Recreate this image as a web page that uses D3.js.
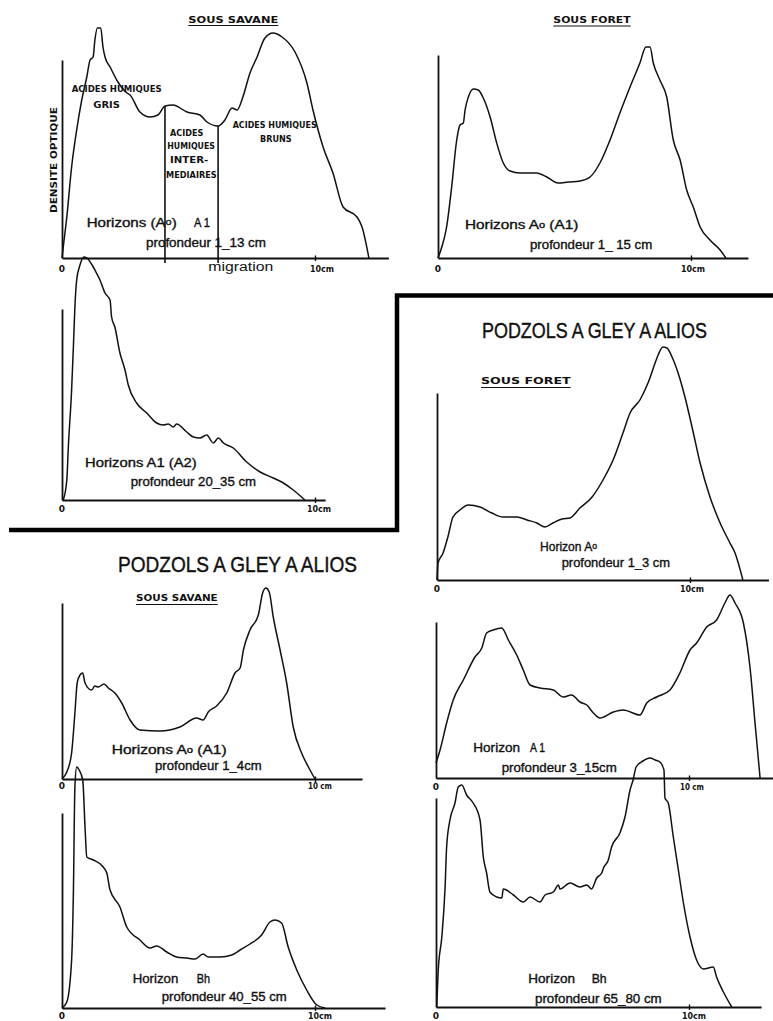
<!DOCTYPE html>
<html><head><meta charset="utf-8">
<script src="https://cdn.jsdelivr.net/npm/d3@7"></script>
<style>body{margin:0;background:#fff}svg{display:block}</style>
</head><body>
<script>
// ---- DATA : densité optique (unités arbitraires) vs migration (cm) ----
// Sous savane, Horizons (Ao) A1, profondeur 1-13 cm
const savaneAoA1 = [[0,0],[0.05,5.5],[0.19,20.5],[0.38,45.5],[0.58,64],[0.78,79],[0.98,90.5],[1.11,99],[1.23,100.5],[1.30,109],[1.40,115],[1.53,115],[1.62,105.5],[1.70,100.5],[1.90,95.5],[2.21,88],[2.57,82.5],[2.69,81.5],[3.08,73],[3.48,70.5],[3.79,71.5],[4.07,76],[4.39,76.5],[4.94,73],[5.45,71.5],[5.73,68],[6.17,66],[6.44,69],[6.72,75],[6.92,74],[7.15,80.5],[7.43,92.5],[7.71,100.5],[8.02,110],[8.34,112.5],[8.70,110.5],[9.21,103],[9.68,87.5],[9.92,74],[10.32,55.5],[10.71,42.5],[11.11,25.5],[11.66,20.5],[11.86,15.5],[12.13,0]];
// Sous forêt, Horizons Ao (A1), profondeur 1-15 cm
const foretAoA1 = [[0,0],[0.15,5.5],[0.34,15.5],[0.54,35.5],[0.74,59],[0.87,66.5],[1.00,67.5],[1.07,74],[1.20,80.5],[1.40,84.5],[1.59,84],[1.79,80],[2.06,70.5],[2.32,57.5],[2.58,47.5],[2.85,43.5],[3.24,42.5],[3.90,42.5],[4.30,40.5],[4.75,37.5],[5.15,38],[5.61,38.5],[6.01,40.5],[6.40,47.5],[6.80,59],[7.19,72.5],[7.59,85.5],[7.98,97.5],[8.22,105.5],[8.38,105.5],[8.51,97.5],[8.77,89],[9.04,80.5],[9.30,59],[9.57,49],[9.83,34],[10.09,25.5],[10.36,15.5],[10.75,9],[11.15,4],[11.38,0]];
// Sous savane, Horizons A1 (A2), profondeur 20-35 cm
const savaneA1A2 = [[0.05,0],[0.19,10],[0.25,26.5],[0.38,55],[0.45,76.5],[0.51,96.5],[0.58,110],[0.71,117.5],[0.87,121.5],[1.03,120.5],[1.19,117.5],[1.34,114],[1.50,110],[1.70,103.5],[1.90,100],[1.96,91.5],[2.09,86.5],[2.29,73.5],[2.49,65],[2.62,57.5],[2.95,48.5],[3.35,43.5],[3.74,38.5],[4.00,37.5],[4.20,38],[4.40,36.5],[4.53,38],[4.93,34],[5.19,31.5],[5.45,31],[5.72,32.5],[5.98,28.5],[6.18,31],[6.38,28.5],[6.77,26],[7.30,19],[7.83,14],[8.35,11],[8.75,8.5],[9.14,5],[9.60,0]];
// Podzols à gley à alios, sous forêt, Horizon Ao, profondeur 1-3 cm
const foretAo = [[0,0],[0.04,8.5],[0.24,13.5],[0.43,21.5],[0.63,31.5],[0.91,35],[1.23,37.5],[1.70,36.5],[2.17,33.5],[2.61,31.5],[3.16,31.5],[3.56,30],[3.95,28.5],[4.27,26.5],[4.58,28.5],[4.94,30.5],[5.26,31],[5.65,36],[6.13,41.5],[6.56,50],[6.96,60],[7.35,73.5],[7.63,83.5],[8.02,90],[8.34,98.5],[8.62,108.5],[8.74,112.5],[8.93,116.5],[9.09,116],[9.29,111.5],[9.53,103.5],[9.80,91.5],[10.08,76.5],[10.40,58.5],[10.79,41.5],[11.19,28.5],[11.58,18.5],[11.78,13.5],[12.09,0]];
// Podzols à gley à alios, sous savane, Horizons Ao (A1), profondeur 1-4 cm
const savaneAoA1b = [[0,0],[0.19,3.5],[0.38,13],[0.51,33],[0.60,48],[0.71,52],[0.82,53],[0.91,48],[1.17,44.5],[1.30,46.5],[1.43,46],[1.66,47.5],[1.83,45.5],[2.09,43],[2.36,38],[2.69,29.5],[3.08,24.5],[3.87,24],[4.66,26],[5.32,30.5],[5.58,29.5],[5.78,33.5],[6.11,36.5],[6.51,43],[6.84,53],[7.04,55.5],[7.17,64.5],[7.43,74.5],[7.76,82],[7.93,93],[8.06,95.5],[8.19,93.5],[8.35,81],[8.62,64.5],[8.88,48],[9.14,26],[9.47,13],[9.74,6],[10.00,0]];
// Podzols à gley à alios, sous forêt, Horizon A1, profondeur 3-15 cm
const foretA1 = [[0,7.5],[0.16,14],[0.42,27.5],[0.68,39],[1.08,49],[1.54,60.5],[1.81,65],[2.00,72.5],[2.26,74],[2.60,75],[2.86,69],[3.19,61.5],[3.45,54],[3.72,46.5],[4.11,45],[4.64,44],[5.03,40.5],[5.36,41.5],[5.69,38],[5.96,36.5],[6.22,32.5],[6.48,30],[7.01,33],[7.40,34],[8.06,31.5],[8.33,37.5],[8.72,40.5],[9.25,44],[9.64,52.5],[10.04,64],[10.30,67.5],[10.70,75.5],[11.09,79],[11.42,87.5],[11.62,91.5],[11.82,87.5],[12.15,77.5],[12.41,55.5],[12.61,27.5],[12.81,0]];
// Sous savane, Horizon Bh, profondeur 40-55 cm
const savaneBh = [[0,0],[0.19,3],[0.38,24],[0.45,57.5],[0.51,110.5],[0.58,120.5],[0.68,119],[0.82,114],[0.91,90.5],[0.98,75.5],[1.24,74],[1.63,70.5],[1.77,67.5],[1.90,59],[2.29,50.5],[2.56,40.5],[3.08,34],[3.48,30],[3.74,31],[4.14,28],[4.53,25.5],[4.93,25],[5.26,24.5],[5.58,27],[5.78,25.5],[6.25,25.5],[6.71,26.5],[7.04,29],[7.43,32],[7.89,36.5],[8.22,43],[8.42,44],[8.68,42.5],[8.94,30.5],[9.28,19],[9.67,9],[10.07,1.5],[10.40,0]];
// Sous forêt, Horizon Bh, profondeur 65-80 cm
const foretBh = [[0.03,0],[0.09,18.5],[0.23,35],[0.36,60],[0.42,80],[0.55,93.5],[0.75,102],[0.88,110],[1.02,111],[1.21,106],[1.47,102],[1.74,93.5],[1.87,75],[2.00,67],[2.13,57.5],[2.40,55],[2.60,54.5],[2.66,59],[3.06,56],[3.45,52.5],[3.72,55],[4.11,52.5],[4.31,56],[4.64,57.5],[4.84,61],[4.90,59],[5.30,62],[5.69,60],[5.96,61],[6.15,59],[6.35,64.5],[6.55,67],[6.62,69.5],[6.81,73.5],[6.94,80],[7.27,87],[7.47,95],[7.67,108.5],[7.79,113.5],[7.91,120],[8.18,123],[8.46,124.5],[8.66,123.5],[8.85,122.5],[9.01,118.5],[9.05,104.5],[9.18,102],[9.38,85],[9.58,68.5],[9.78,52],[10.04,35],[10.30,23.5],[10.57,19],[10.96,20],[11.09,15],[11.36,7.5],[11.69,0]];
// limites des fractions (acides humiques gris / intermédiaires / bruns), cm
const fractionLimits = [4.07, 6.17];
// extent of axes, in data units
const yAxisMax = [99, 101.5, 95.5, 93.5, 88, 78, 97.5, 104.5];
const xAxisMax = [12.9, 12.25, 10.4, 13.1, 11.86, 13.3, 12.77, 12.85];
const xTickValues = [10];
const xTickLabels = ["10cm","10cm","10cm","10cm","10 cm","10 cm","10cm","10cm"];
const zeroLabel = "0";

// ---- DRAWING ----
const W = 773, H = 1021, PXCM = 25.3, PXU = 2;
const svg = d3.select("body").append("svg").attr("width", W).attr("height", H);

const panels = [
  {data: savaneAoA1, ax: 62,  base: 258, tx: 310, ty: 271.7},
  {data: foretAoA1,  ax: 438, base: 258, tx: 681, ty: 271.5},
  {data: savaneA1A2, ax: 62,  base: 500, tx: 307, ty: 512},
  {data: foretAo,    ax: 437, base: 580, tx: 680, ty: 592},
  {data: savaneAoA1b,ax: 62,  base: 779, tx: 308, ty: 789},
  {data: foretA1,    ax: 436, base: 778, tx: 680, ty: 789.5},
  {data: savaneBh,   ax: 62,  base: 1008,tx: 308, ty: 1018.5},
  {data: foretBh,    ax: 436, base: 1007,tx: 682, ty: 1019}
];

const fonts = {
  lab:   {family: "'Liberation Sans', Arial, sans-serif", size: 12, weight: 400, sw: 0.35},
  cap:   {family: "'DejaVu Sans', sans-serif", size: 9.5, weight: 700, sw: 0},
  tick:  {family: "'DejaVu Sans', sans-serif", size: 9, weight: 700, sw: 0},
  title: {family: "'Liberation Sans', Arial, sans-serif", size: 22, weight: 400, sw: 0.4},
  mig:   {family: "'Liberation Sans', Arial, sans-serif", size: 12.5, weight: 400, sw: 0}
};
function txt(parent, segs, x, y, w, f, extra) {
  const ft = fonts[f];
  const t = parent.append("text").attr("x", x).attr("y", y)
    .attr("font-family", ft.family).attr("font-size", ft.size).attr("font-weight", ft.weight)
    .attr("fill", "#111");
  if (ft.sw) t.attr("stroke", "#111").attr("stroke-width", ft.sw);
  if (w) t.attr("textLength", w).attr("lengthAdjust", "spacingAndGlyphs");
  if (typeof segs === "string") segs = [[segs]];
  segs.forEach(s => {
    const ts = t.append("tspan").text(s[0]);
    if (s[1]) ts.attr("font-size", ft.size * 0.72).attr("dy", -1.5);
    else if (s[2]) ts.attr("dy", 1.5);
  });
  if (extra) extra(t);
  return t;
}

const lineGen = (x, y) => d3.line().x(d => x(d[0])).y(d => y(d[1])).curve(d3.curveMonotoneX);

panels.forEach((p, i) => {
  const x = d3.scaleLinear().domain([0, 10]).range([p.ax, p.ax + 10 * PXCM]);
  const y = d3.scaleLinear().domain([0, 100]).range([p.base, p.base - 100 * PXU]);
  const g = svg.append("g");

  const xa = d3.scaleLinear().domain([0, xAxisMax[i]]).range([x(0), x(xAxisMax[i])]);
  const gx = g.append("g").attr("transform", `translate(0,${p.base})`)
    .call(d3.axisBottom(xa).tickValues(xTickValues).tickSizeInner(3).tickSizeOuter(0).tickFormat(""));
  gx.select(".domain").attr("stroke", "#111").attr("stroke-width", 1.8);
  gx.selectAll(".tick line").attr("y1", -2.5).attr("stroke", "#111").attr("stroke-width", 1.4);

  const ya = d3.scaleLinear().domain([0, yAxisMax[i]]).range([p.base, y(yAxisMax[i])]);
  const gy = g.append("g").attr("transform", `translate(${p.ax},0)`)
    .call(d3.axisLeft(ya).tickValues([]).tickSizeOuter(0));
  gy.select(".domain").attr("stroke", "#111").attr("stroke-width", 1.8);

  g.append("path").datum(p.data).attr("d", lineGen(x, y)).attr("fill", "none")
    .attr("stroke", "#111").attr("stroke-width", 1.5).attr("stroke-linejoin", "round");

  txt(g, zeroLabel, p.ax, p.ty, null, "tick", t => t.attr("text-anchor", "middle"));
  txt(g, xTickLabels[i], p.tx, p.ty, 24, "tick");

  if (i === 0) {
    // fraction limits drawn up to the curve
    const bis = d3.bisector(d => d[0]).left;
    fractionLimits.forEach(c => {
      const k = bis(p.data, c);
      const a = p.data[k - 1], b = p.data[k];
      const v = a[1] + (b[1] - a[1]) * (c - a[0]) / (b[0] - a[0]);
      g.append("line").attr("x1", x(c)).attr("x2", x(c)).attr("y1", p.base + 5).attr("y2", y(v))
        .attr("stroke", "#111").attr("stroke-width", 1.6);
    });
  }
});

// ---- TEXT ----
const T = svg.append("g");
function underline(x1, x2, yy) {
  T.append("line").attr("x1", x1).attr("x2", x2).attr("y1", yy).attr("y2", yy)
    .attr("stroke", "#111").attr("stroke-width", 1.2);
}
// panel 1
txt(T, "SOUS   SAVANE", 188.3, 22.7, 90, "cap"); underline(188.3, 278.3, 25.5);
txt(T, "ACIDES HUMIQUES", 71.7, 91.7, 90, "cap");
txt(T, "GRIS", 93.3, 108.3, 26.7, "cap");
txt(T, "ACIDES", 170, 136, 33.3, "cap");
txt(T, "HUMIQUES", 167.3, 149.3, 47.7, "cap");
txt(T, "INTER-", 170, 163.3, 38.3, "cap");
txt(T, "MEDIAIRES", 166, 178.3, 50.7, "cap");
txt(T, "ACIDES HUMIQUES", 232.7, 127.7, 84, "cap");
txt(T, "BRUNS", 260, 141.7, 31.7, "cap");
txt(T, "DENSITE  OPTIQUE", 0, 0, 106, "cap", t => t.attr("transform", "translate(57.3,213) rotate(-90)"));
txt(T, [["Horizons (A"], ["o", true], [")", false, true]], 86.7, 226.7, 90, "lab");
txt(T, "A 1", 194, 226.7, 16, "lab");
txt(T, "profondeur  1_13 cm", 146, 246.7, 120, "lab");
txt(T, "migration", 208.3, 271, 65, "mig");
// panel 2
txt(T, "SOUS   FORET", 553.3, 23.3, 77.4, "cap"); underline(553.3, 630.7, 26);
txt(T, [["Horizons  A"], ["o", true], ["  (A1)", false, true]], 465, 229.3, 113.3, "lab");
txt(T, "profondeur  1_ 15 cm", 530, 249.3, 122.3, "lab");
// panel 3
txt(T, "Horizons  A1   (A2)", 85, 466.7, 111.7, "lab");
txt(T, "profondeur  20_35 cm", 130.7, 486, 125.3, "lab");
// panel 4
txt(T, "PODZOLS A GLEY A ALIOS", 482, 338.3, 225, "title");
txt(T, "SOUS   FORET", 481, 384.3, 89.7, "cap"); underline(481, 570.7, 387.5);
txt(T, [["Horizon  A"], ["o", true]], 540, 550.5, 57, "lab");
txt(T, "profondeur 1_3 cm", 561.7, 567, 108.3, "lab");
// panel 5
txt(T, "PODZOLS A GLEY A ALIOS", 118, 571.7, 239, "title");
txt(T, "SOUS   SAVANE", 136, 601, 81.7, "cap"); underline(136, 217.7, 604.5);
txt(T, [["Horizons  A"], ["o", true], [" (A1)", false, true]], 111.7, 754.3, 115, "lab");
txt(T, "profondeur 1_4cm", 155, 770, 106.7, "lab");
// panel 6
txt(T, "Horizon", 473.3, 752.3, 46.7, "lab");
txt(T, "A 1", 530, 752.3, 15, "lab");
txt(T, "profondeur  3_15cm", 501.7, 771.7, 115, "lab");
// panel 7
txt(T, "Horizon", 132.7, 982.7, 45.6, "lab");
txt(T, "Bh", 196.7, 982.7, 13.3, "lab");
txt(T, "profondeur 40_55 cm", 161.7, 1000.7, 125, "lab");
// panel 8
txt(T, "Horizon", 528.3, 983.3, 46.7, "lab");
txt(T, "Bh", 591.7, 983.3, 15, "lab");
txt(T, "profondeur  65_80 cm", 535, 1002.7, 126.7, "lab");

// heavy frame separating the groups
T.append("path").attr("d", "M9,530 H397 V295.5 H773").attr("fill", "none")
  .attr("stroke", "#000").attr("stroke-width", 4.5);
</script>
</body></html>
